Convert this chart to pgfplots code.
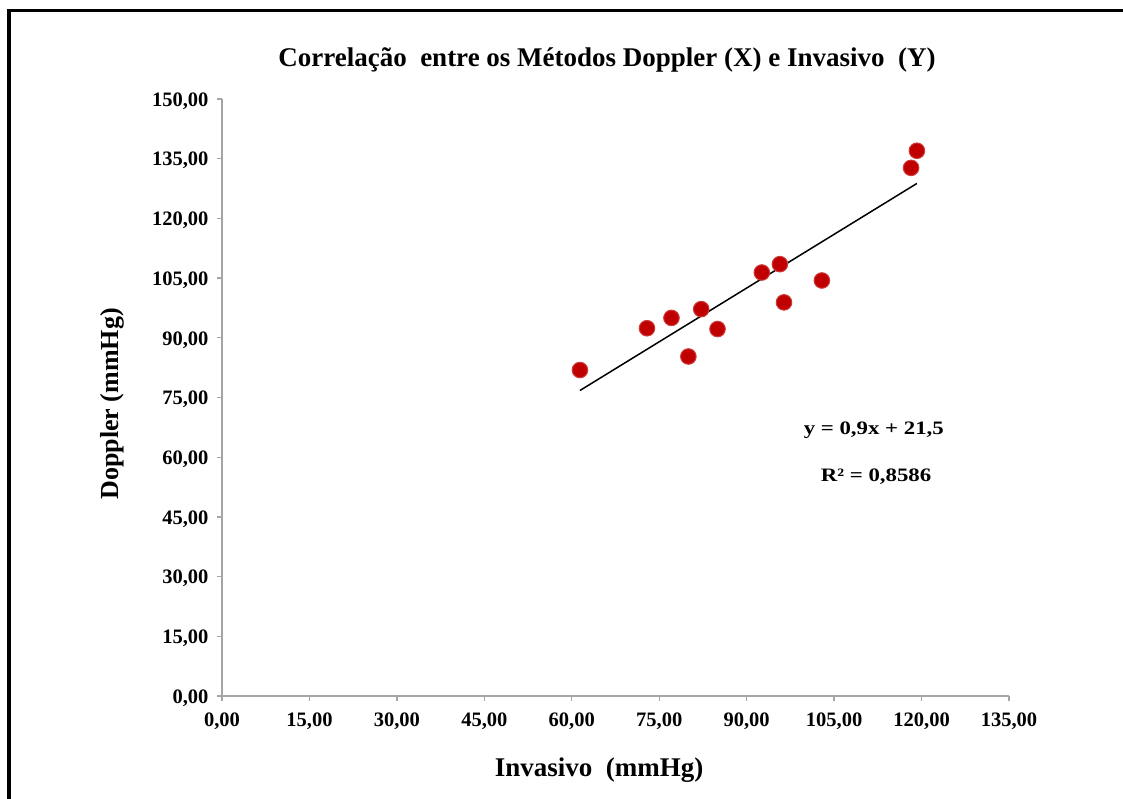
\documentclass[border=0pt]{standalone}
\usepackage{pgfplots}
\pgfplotsset{compat=1.18}
\usepackage{fontspec}
\setmainfont{Liberation Serif}
\usepackage{graphicx}
\definecolor{axisgray}{RGB}{165,165,165}
\definecolor{ptred}{RGB}{192,0,0}
\definecolor{ptedge}{RGB}{205,60,60}
\begin{document}
\begin{tikzpicture}[x=1pt,y=1pt]
\useasboundingbox (0,0) rectangle (1123,798);
% frame
\draw[line width=3.5pt,line cap=rect] (9,0) -- (9,787.5) -- (1123,787.5);
\begin{axis}[
  at={(222pt,102pt)}, anchor=origin,
  scale only axis, width=787pt, height=597pt,
  xmin=0, xmax=135, ymin=0, ymax=150,
  enlargelimits=false,
  axis x line=bottom, axis y line=left,
  axis line style={draw=axisgray, line width=1.3pt, -},
  xtick={0,15,...,135}, ytick={0,15,...,150},
  tick style={draw=axisgray, line width=1.3pt},
  tick align=outside, major tick length=5pt,
  /pgf/number format/assume math mode=true,
  /pgf/number format/.cd, fixed, fixed zerofill, precision=2, use comma, 1000 sep={},
  /pgfplots/.cd,
  ticklabel style={font=\fontsize{20.5}{22}\selectfont\bfseries},
  xticklabel style={yshift=-8pt},
  yticklabel style={xshift=-5pt, yshift=-2pt},
  clip=false,
]
\addplot[only marks, mark=*, mark size=7.8pt, mark options={fill=ptred, draw=ptedge, line width=1pt}]
coordinates {
(61.4,81.9) (72.9,92.4) (77.1,95.0) (80.0,85.3) (82.2,97.2) (85.0,92.2)
(92.6,106.4) (95.7,108.5) (96.4,98.9) (102.9,104.4) (118.2,132.7) (119.2,137.0)
};
\addplot[black, line width=1.5pt] coordinates {(61.4,76.76) (119.2,128.78)};
\node[font=\fontsize{19}{21}\selectfont\bfseries] at (axis cs:111.8,66.8) {\scalebox{1.2}[1]{y = 0,9x + 21,5}};
\node[font=\fontsize{19}{21}\selectfont\bfseries] at (axis cs:112.2,55.0) {\scalebox{1.2}[1]{R² = 0,8586}};
\end{axis}
\node[font=\fontsize{27}{29}\selectfont\bfseries] at (607,738) {Correlação\ \ entre os Métodos Doppler (X) e Invasivo\ \ (Y)};
\node[font=\fontsize{27}{29}\selectfont\bfseries] at (599,28) {Invasivo\ \ (mmHg)};
\node[font=\fontsize{26}{28}\selectfont\bfseries, rotate=90] at (112,394) {Doppler (mmHg)};
\end{tikzpicture}
\end{document}
